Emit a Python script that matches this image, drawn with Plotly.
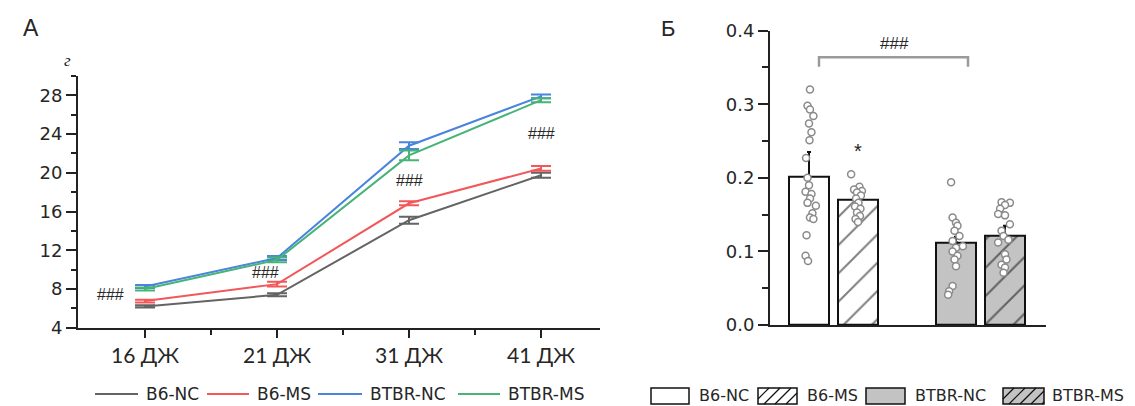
import plotly.graph_objects as go

W, H = 1135, 406

# ---------------- data: panel A (body weight, g) ----------------
ages = ["16 ДЖ", "21 ДЖ", "31 ДЖ", "41 ДЖ"]
line_groups = ["B6-NC", "B6-MS", "BTBR-NC", "BTBR-MS"]
b6_nc = [6.2, 7.4, 15.1, 19.75]
b6_ms = [6.75, 8.5, 16.85, 20.45]
btbr_nc = [8.25, 11.2, 22.8, 27.9]
btbr_ms = [8.0, 11.0, 21.8, 27.5]
b6_nc_err = [0.12, 0.15, 0.35, 0.25]
b6_ms_err = [0.15, 0.25, 0.2, 0.25]
btbr_nc_err = [0.15, 0.2, 0.35, 0.2]
btbr_ms_err = [0.15, 0.25, 0.5, 0.2]
line_colors = ["#646464", "#f2575a", "#4a84dc", "#45b476"]
sig_a = ["###", "###", "###", "###"]

# ---------------- data: panel Б ----------------
bar_groups = ["B6-NC", "B6-MS", "BTBR-NC", "BTBR-MS"]
bar_means = [0.202, 0.170, 0.112, 0.121]
bar_err = [0.033, 0.006, 0.008, 0.014]
pts_b6_nc = [0.320, 0.298, 0.293, 0.284, 0.274, 0.262, 0.251, 0.227, 0.200, 0.190, 0.181,
             0.178, 0.172, 0.166, 0.162, 0.152, 0.146, 0.144, 0.122, 0.094, 0.087]
jit_b6_nc = [0.02, -0.03, 0.02, 0.09, 0.0, 0.05, 0.01, -0.06, -0.03, 0.0, -0.07,
             0.05, 0.02, -0.03, 0.14, 0.07, 0.02, 0.09, -0.05, -0.07, -0.02]
pts_b6_ms = [0.205, 0.188, 0.184, 0.182, 0.180, 0.176, 0.172, 0.166, 0.161, 0.158, 0.153,
             0.148, 0.144, 0.140]
jit_b6_ms = [-0.14, 0.03, -0.08, 0.08, -0.02, 0.06, -0.04, 0.01, -0.06, 0.05, -0.02,
             0.04, -0.05, 0.0]
pts_btbr_nc = [0.194, 0.146, 0.139, 0.135, 0.128, 0.121, 0.114, 0.107, 0.105, 0.100, 0.094,
               0.089, 0.080, 0.053, 0.046, 0.041]
jit_btbr_nc = [-0.10, -0.07, 0.0, 0.03, -0.03, 0.07, -0.07, 0.14, 0.0, -0.07, 0.03,
               -0.03, 0.0, -0.07, -0.14, -0.16]
pts_btbr_ms = [0.167, 0.166, 0.163, 0.158, 0.151, 0.149, 0.137, 0.128, 0.121, 0.116, 0.112,
               0.096, 0.089, 0.082, 0.078, 0.071]
jit_btbr_ms = [-0.07, 0.10, 0.0, -0.10, -0.14, 0.0, 0.10, -0.07, -0.03, 0.07, -0.14,
               0.0, 0.03, -0.07, 0.0, -0.03]
bar_fill = ["white", "white", "#c3c3c3", "#c3c3c3"]
bar_hatch = ["", "/", "", "/"]

FONT = "DejaVu Sans"
DARK = "#262626"


def px(x):
    return x / W


def py(y):
    return 1 - y / H


fig = go.Figure()

# ---------------- panel A ----------------
series = [b6_nc, b6_ms, btbr_nc, btbr_ms]
errs = [b6_nc_err, b6_ms_err, btbr_nc_err, btbr_ms_err]
xi = list(range(len(ages)))
for name, ys, es, col in zip(line_groups, series, errs, line_colors):
    fig.add_trace(go.Scatter(
        x=xi, y=ys, name=name, mode="lines",
        line=dict(color=col, width=2),
        error_y=dict(type="data", array=es, visible=True, color=col, thickness=2, width=10),
        xaxis="x", yaxis="y", showlegend=False,
    ))

# ---------------- panel Б ----------------
pts = [pts_b6_nc, pts_b6_ms, pts_btbr_nc, pts_btbr_ms]
jits = [jit_b6_nc, jit_b6_ms, jit_btbr_nc, jit_btbr_ms]
bar_x = [0, 1, 3, 4]
for i, name in enumerate(bar_groups):
    fig.add_trace(go.Bar(
        x=[bar_x[i]], y=[bar_means[i]], name=name, width=0.8,
        marker=dict(color=bar_fill[i], line=dict(color="#111", width=2),
                    pattern=dict(shape=bar_hatch[i], fgcolor="#000", bgcolor=bar_fill[i],
                                 size=20, solidity=0.1)),
        error_y=dict(type="data", symmetric=False, array=[bar_err[i]], arrayminus=[0],
                     color="#111", thickness=2, width=2),
        xaxis="x2", yaxis="y2", showlegend=False,
    ))
for i, name in enumerate(bar_groups):
    fig.add_trace(go.Scatter(
        x=[bar_x[i] + j for j in jits[i]], y=pts[i], mode="markers", name=name,
        marker=dict(symbol="circle", size=7, color="white",
                    line=dict(color="#8a8a8a", width=1.5)),
        xaxis="x2", yaxis="y2", showlegend=False,
    ))

shapes = []
annotations = []

# significance bracket panel Б
shapes.append(dict(type="path", xref="x2", yref="y2",
                   path="M0.204,0.351 L0.204,0.364 L3.245,0.364 L3.245,0.351",
                   line=dict(color="#9a9a9a", width=2.5)))
annotations.append(dict(x=1.755, y=0.383, xref="x2", yref="y2", text="###", showarrow=False,
                        font=dict(family="Liberation Sans", size=17, color=DARK)))
annotations.append(dict(x=1.0, y=0.236, xref="x2", yref="y2", text="*", showarrow=False,
                        font=dict(family="Liberation Sans", size=20, color=DARK)))

# ### in panel A
for (ax, ay), t in zip([(-0.265, 7.38), (0.91, 9.75), (2.0, 19.24), (3.0, 24.08)], sig_a):
    annotations.append(dict(x=ax, y=ay, xref="x", yref="y", text=t, showarrow=False,
                            font=dict(family="Liberation Sans", size=16, color=DARK)))

# panel letters and unit
annotations.append(dict(x=px(21), y=py(28), xref="paper", yref="paper", text="А", showarrow=False,
                        yanchor="middle", font=dict(family="Liberation Sans", size=23, color=DARK)))
annotations.append(dict(x=px(668), y=py(28), xref="paper", yref="paper", text="Б", showarrow=False,
                        yanchor="middle", font=dict(family="Liberation Sans", size=22, color=DARK)))
annotations.append(dict(x=px(62), y=py(60), xref="paper", yref="paper", text="<i>г</i>",
                        showarrow=False, yanchor="middle",
                        font=dict(family="Liberation Serif", size=17, color=DARK)))

# legend panel A (drawn)
leg_line_x = [(95, 138), (207, 249), (318, 362), (458, 500)]
leg_text_x = [144, 255, 368, 506]
for (x0, x1), tx, name, col in zip(leg_line_x, leg_text_x, line_groups, line_colors):
    shapes.append(dict(type="line", xref="paper", yref="paper", x0=px(x0), x1=px(x1),
                       y0=py(394), y1=py(394), line=dict(color=col, width=2)))
    annotations.append(dict(x=px(tx), y=py(394), xref="paper", yref="paper", text=name,
                            showarrow=False, xanchor="left", yanchor="middle",
                            font=dict(family=FONT, size=17, color=DARK)))

# legend panel Б (drawn)
box_x = [(651, 689), (758, 797), (866, 905), (1003, 1044)]
box_text_x = [697, 805, 913, 1050]
by0, by1 = 388, 404
for (x0, x1), tx, name, fc, hp in zip(box_x, box_text_x, bar_groups, bar_fill, bar_hatch):
    shapes.append(dict(type="rect", xref="paper", yref="paper", x0=px(x0), x1=px(x1),
                       y0=py(by1), y1=py(by0), fillcolor=fc, line=dict(color="#111", width=1.5)))
    if hp:
        h = by1 - by0
        c = x0 - h
        while c < x1:
            t0 = max(0, x0 - c)
            t1 = min(h, x1 - c)
            if t1 > t0:
                shapes.append(dict(type="line", xref="paper", yref="paper",
                                   x0=px(c + t0), y0=py(by1 - t0), x1=px(c + t1), y1=py(by1 - t1),
                                   line=dict(color="#111", width=1.2)))
            c += 11
    annotations.append(dict(x=px(tx), y=py(395), xref="paper", yref="paper", text=name,
                            showarrow=False, xanchor="left", yanchor="middle",
                            font=dict(family=FONT, size=16, color=DARK)))

axis_line = dict(showline=True, linecolor="#222", linewidth=2, showgrid=False, zeroline=False,
                 automargin=False)

fig.update_layout(
    width=W, height=H,
    margin=dict(l=0, r=0, t=0, b=0, pad=0, autoexpand=False),
    paper_bgcolor="white", plot_bgcolor="white",
    showlegend=False,
    shapes=shapes, annotations=annotations,
    xaxis=dict(domain=[px(78), px(600)], range=[-0.508, 3.447], tickvals=xi, ticktext=ages,
               ticks="outside", ticklen=8, tickwidth=2, tickcolor="#222",
               minor=dict(tickvals=[0.5, 1.5, 2.5], ticks="outside", ticklen=5, tickwidth=2,
                          tickcolor="#222"),
               tickfont=dict(family="Lato", size=21, color=DARK), **axis_line),
    yaxis=dict(domain=[py(327.7), py(76)], range=[4, 30], tickvals=[4, 8, 12, 16, 20, 24, 28],
               ticks="outside", ticklen=10, tickwidth=2, tickcolor="#222",
               minor=dict(tickvals=[6, 10, 14, 18, 22, 26, 30], ticks="outside", ticklen=5,
                          tickwidth=2, tickcolor="#222"),
               tickfont=dict(family=FONT, size=18, color=DARK), **axis_line),
    xaxis2=dict(domain=[px(770), px(1046)], range=[-0.796, 4.837], showticklabels=False,
                ticks="", anchor="y2", **axis_line),
    yaxis2=dict(domain=[py(325), py(30.7)], range=[0, 0.4], tickvals=[0, 0.1, 0.2, 0.3, 0.4],
                tickformat=".1f", ticks="outside", ticklen=10, tickwidth=2, tickcolor="#222",
                minor=dict(tickvals=[0.05, 0.15, 0.25, 0.35], ticks="outside", ticklen=6,
                           tickwidth=2, tickcolor="#222"),
                tickfont=dict(family=FONT, size=18, color=DARK), anchor="x2", **axis_line),
    bargap=0,
)

fig.write_html("out.html")
